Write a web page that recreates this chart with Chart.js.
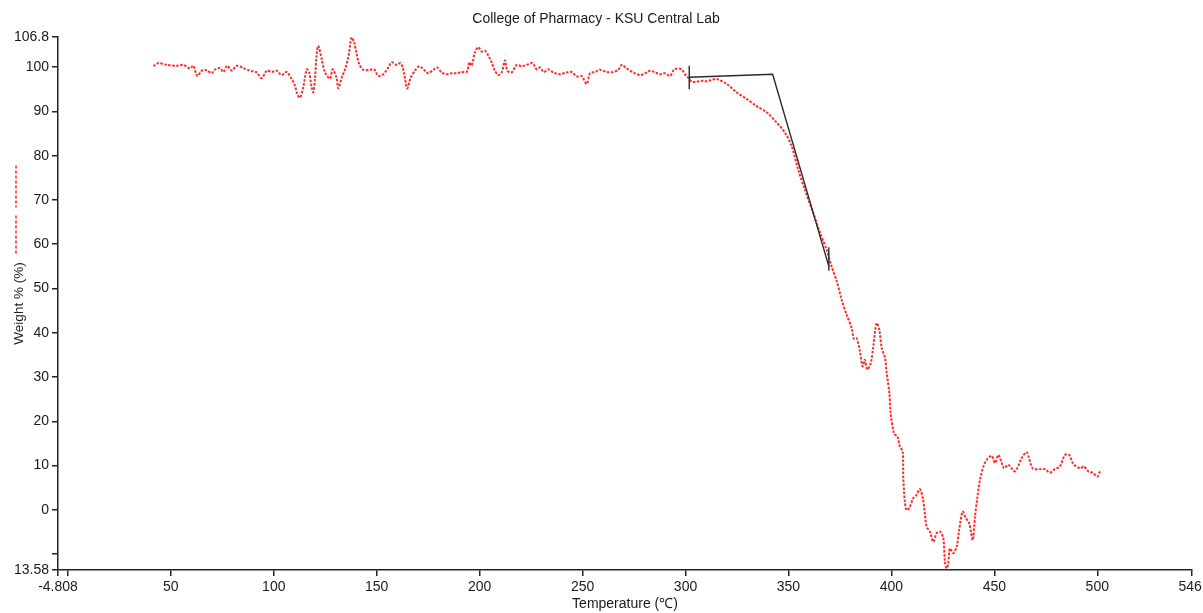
<!DOCTYPE html>
<html lang="en">
<head>
    <meta charset="UTF-8">
    <title>College of Pharmacy - KSU Central Lab</title>
    <script src="https://cdn.jsdelivr.net/npm/chart.js"></script>
    <style>
        html, body { margin: 0; padding: 0; background: #fff; }
        #wrap { width: 1203px; height: 613px; }
    </style>
</head>
<body>
    <div id="wrap"><canvas id="tga"></canvas></div>

    <script>
        // temperature (°C) and weight (%)
        const temps = [41.5, 43.9, 48.0, 52.8, 56.1, 59.3, 60.9, 62.9, 65.0, 67.4, 69.8, 71.4, 73.9, 75.5, 77.4, 79.6,
            82.0, 85.2, 88.4, 91.7, 94.1, 96.6, 99.0, 101.4, 103.8, 106.3, 108.7, 110.3, 111.4, 112.7, 114.3, 116.0,
            117.2, 118.4, 119.2, 120.0, 120.8, 121.6, 123.3, 124.9, 127.3, 128.6, 130.5, 131.3, 133.0, 134.6, 136.2,
            137.8, 139.0, 140.3, 141.5, 143.5, 146.7, 148.7, 150.8, 153.2, 155.6, 157.3, 159.7, 161.6, 163.2, 164.8,
            166.5, 168.6, 170.7, 173.4, 175.0, 177.5, 179.4, 181.5, 184.0, 186.4, 188.8, 191.3, 193.7, 195.0, 196.1,
            197.7, 199.3, 201.0, 202.6, 204.2, 205.8, 207.4, 209.1, 210.7, 212.3, 213.4, 215.5, 218.0, 220.4, 222.8,
            225.7, 227.7, 229.3, 231.2, 233.3, 235.7, 239.0, 242.2, 244.7, 247.1, 249.5, 252.0, 253.6, 256.0, 258.4,
            261.7, 264.9, 267.3, 269.0, 271.4, 274.6, 277.9, 280.3, 282.7, 285.1, 287.6, 290.0, 292.4, 294.4, 296.0,
            298.1, 299.7, 301.3, 303.0, 305.4, 307.8, 310.2, 313.5, 315.1, 320.0, 324.8, 329.7, 334.5, 339.4, 344.2,
            348.3, 351.5, 354.7, 357.9, 362.0, 365.3, 368.5, 370.9, 373.4, 375.8, 378.2, 380.7, 381.8, 383.1, 384.7,
            386.0, 387.1, 388.2, 389.9, 391.2, 392.8, 394.1, 395.3, 396.9, 397.7, 399.0, 399.6, 401.3, 402.9, 404.1,
            405.5, 405.8, 407.1, 408.6, 410.6, 412.2, 413.8, 415.4, 417.1, 418.7, 420.3, 421.9, 423.6, 425.2, 426.0,
            426.8, 427.6, 428.4, 430.0, 431.7, 432.9, 434.6, 436.2, 437.8, 439.5, 440.6, 441.8, 443.0, 444.7, 446.3,
            448.7, 450.3, 452.0, 454.7, 456.8, 460.0, 463.3, 465.7, 468.6, 472.1, 474.6, 477.0, 479.4, 481.8, 484.3,
            486.4, 488.3, 491.6, 493.5, 495.6, 498.0, 500.0, 501.3];
        const weights = [100.2, 100.9, 100.5, 100.3, 100.5, 99.7, 100.3, 98.0, 99.2, 99.3, 98.6, 99.4, 99.8, 98.9, 100.3, 99.2,
            100.3, 99.8, 99.2, 98.8, 97.5, 99.2, 98.9, 99.2, 98.2, 98.9, 97.3, 95.8, 93.9, 93.1, 95.4, 99.5,
            98.8, 95.4, 94.3, 97.3, 102.6, 104.8, 101.8, 98.8, 97.4, 99.5, 97.6, 95.2, 97.6, 99.5, 102.2,
            106.7, 105.6, 102.9, 100.7, 99.4, 99.4, 99.5, 98.0, 98.4, 99.9, 101.1, 100.5, 100.9, 98.8, 95.2,
            97.6, 99.2, 100.2, 99.2, 98.6, 99.4, 99.9, 98.8, 98.4, 98.6, 98.6, 98.9, 98.9, 101.1, 100.3,
            103.3, 104.5, 103.5, 103.7, 102.6, 101.1, 99.2, 98.2, 98.8, 101.5, 99.2, 98.8, 100.5, 100.2, 100.5,
            100.9, 99.5, 99.9, 98.9, 99.5, 98.8, 98.4, 98.8, 98.9, 97.9, 98.0, 96.2, 98.6, 98.9, 99.4,
            98.9, 98.9, 99.4, 100.5, 99.7, 98.8, 98.2, 98.6, 99.2, 98.8, 98.4, 98.6, 98.0, 99.4, 99.7,
            99.5, 98.4, 97.6, 96.7, 96.7, 96.9, 96.8, 97.2, 97.3, 96.2, 94.3, 92.8, 91.2, 89.8, 87.5,
            85.2, 82.2, 76.9, 72.4, 67.1, 62.6, 58.8, 55.0, 51.7, 47.5, 44.1, 41.1, 38.6, 38.8, 35.8,
            32.4, 33.9, 31.7, 33.0, 36.9, 42.2, 40.7, 36.6, 34.3, 30.9, 26.4, 21.9, 17.2, 16.6, 14.3,
            13.2, 6.8, 0.0, 0.4, 2.6, 3.4, 4.7, 2.3, -3.8, -4.9, -7.2, -5.3, -4.9, -6.4, -11.7,
            -13.2, -12.1, -8.7, -9.8, -8.3, -4.5, -0.4, -1.9, -3.0, -6.8, -1.5, 3.0, 6.8, 9.8, 11.3,
            12.2, 10.6, 12.4, 9.4, 10.2, 8.7, 11.7, 13.0, 9.4, 9.2, 9.2, 8.4, 9.2, 9.8, 12.4,
            12.4, 10.4, 9.4, 9.8, 8.7, 8.3, 7.5, 8.7];

        // onset construction (tangent lines + markers)
        const tangentT = [301.8, 342.3, 369.6];
        const tangentW = [97.7, 98.4, 55.0];
        const marker1T = [301.8, 301.8];
        const marker1W = [95.0, 100.3];
        const marker2T = [369.6, 369.6];
        const marker2W = [54.0, 59.3];

        // axis ticks as printed on the plot
        const xMin = -4.808, xMax = 546.0;
        const yMin = -13.58, yMax = 106.8;
        const xTicks = [xMin, 0, 50, 100, 150, 200, 250, 300, 350, 400, 450, 500, xMax];
        const xTickLabels = ['-4.808', '', '50', '100', '150', '200', '250', '300', '350', '400', '450', '500', '546.'];
        const yTicks = [yMin, -10, 0, 10, 20, 30, 40, 50, 60, 70, 80, 90, 100, yMax];
        const yTickLabels = ['13.58', '', '0', '10', '20', '30', '40', '50', '60', '70', '80', '90', '100', '106.8'];

        const toPoints = (xs, ys) => xs.map((x, i) => ({ x: x, y: ys[i] }));

        const FONT = "'Liberation Sans', Arial, sans-serif";
        const INK = '#1a1a1a';

        // little red dashed legend swatch above the y title
        const legendSwatch = {
            id: 'legendSwatch',
            afterDraw(chart) {
                const { ctx, chartArea } = chart;
                const cy = (chartArea.top + chartArea.bottom) / 2;
                const x = 16;
                ctx.save();
                ctx.strokeStyle = '#ff3030';
                ctx.lineWidth = 1.6;
                ctx.setLineDash([3, 2]);
                ctx.beginPath();
                ctx.moveTo(x, cy - 138);
                ctx.lineTo(x, cy - 96);
                ctx.moveTo(x, cy - 88);
                ctx.lineTo(x, cy - 50);
                ctx.stroke();
                ctx.restore();
            }
        };

        const lineBlack = { borderColor: '#2a2a2a', borderWidth: 1.4, pointRadius: 0, fill: false, order: 1 };

        new Chart(document.getElementById('tga'), {
            type: 'line',
            data: {
                datasets: [
                    {
                        label: 'Weight % (%)',
                        data: toPoints(temps, weights),
                        borderColor: '#ff2a2a',
                        borderWidth: 2,
                        borderDash: [2.5, 1.5],
                        pointRadius: 0,
                        tension: 0.3,
                        fill: false,
                        order: 2
                    },
                    Object.assign({ data: toPoints(tangentT, tangentW) }, lineBlack),
                    Object.assign({ data: toPoints(marker1T, marker1W) }, lineBlack),
                    Object.assign({ data: toPoints(marker2T, marker2W) }, lineBlack)
                ]
            },
            options: {
                responsive: true,
                maintainAspectRatio: false,
                animation: false,
                layout: { padding: { left: 0, right: 11, top: 0, bottom: 0 } },
                plugins: {
                    legend: { display: false },
                    tooltip: { enabled: false },
                    title: {
                        display: true,
                        text: 'College of Pharmacy - KSU Central Lab',
                        color: INK,
                        font: { family: FONT, size: 14, weight: 'normal' },
                        padding: { top: 11, bottom: 9.2 }
                    }
                },
                scales: {
                    x: {
                        type: 'linear',
                        min: xMin,
                        max: xMax,
                        afterBuildTicks: (scale) => { scale.ticks = xTicks.map(v => ({ value: v })); },
                        afterFit: (scale) => { scale.height = 43; scale.paddingLeft = 0; scale.paddingRight = 0; },
                        ticks: {
                            autoSkip: false,
                            maxRotation: 0,
                            color: INK,
                            padding: 3,
                            font: { family: FONT, size: 14 },
                            callback: (v, i) => xTickLabels[i]
                        },
                        grid: { drawOnChartArea: false, drawTicks: true, tickLength: 6, color: '#222', lineWidth: 1.5 },
                        border: { color: '#222', width: 1.5 },
                        title: {
                            display: true,
                            text: 'Temperature (℃)',
                            color: INK,
                            font: { family: FONT, size: 14 },
                            padding: { top: 0, bottom: 0 }
                        }
                    },
                    y: {
                        type: 'linear',
                        min: yMin,
                        max: yMax,
                        afterBuildTicks: (scale) => { scale.ticks = yTicks.map(v => ({ value: v })); },
                        afterFit: (scale) => { scale.width = 58; scale.paddingTop = 0; scale.paddingBottom = 0; },
                        ticks: {
                            autoSkip: false,
                            color: INK,
                            padding: 3,
                            font: { family: FONT, size: 14 },
                            callback: (v, i) => yTickLabels[i]
                        },
                        grid: { drawOnChartArea: false, drawTicks: true, tickLength: 6, color: '#222', lineWidth: 1.5 },
                        border: { color: '#222', width: 1.5 },
                        title: {
                            display: true,
                            text: 'Weight % (%)',
                            color: INK,
                            font: { family: FONT, size: 13.5 },
                            padding: { top: 11, bottom: 0 }
                        }
                    }
                }
            },
            plugins: [legendSwatch]
        });
    </script>
</body>
</html>
